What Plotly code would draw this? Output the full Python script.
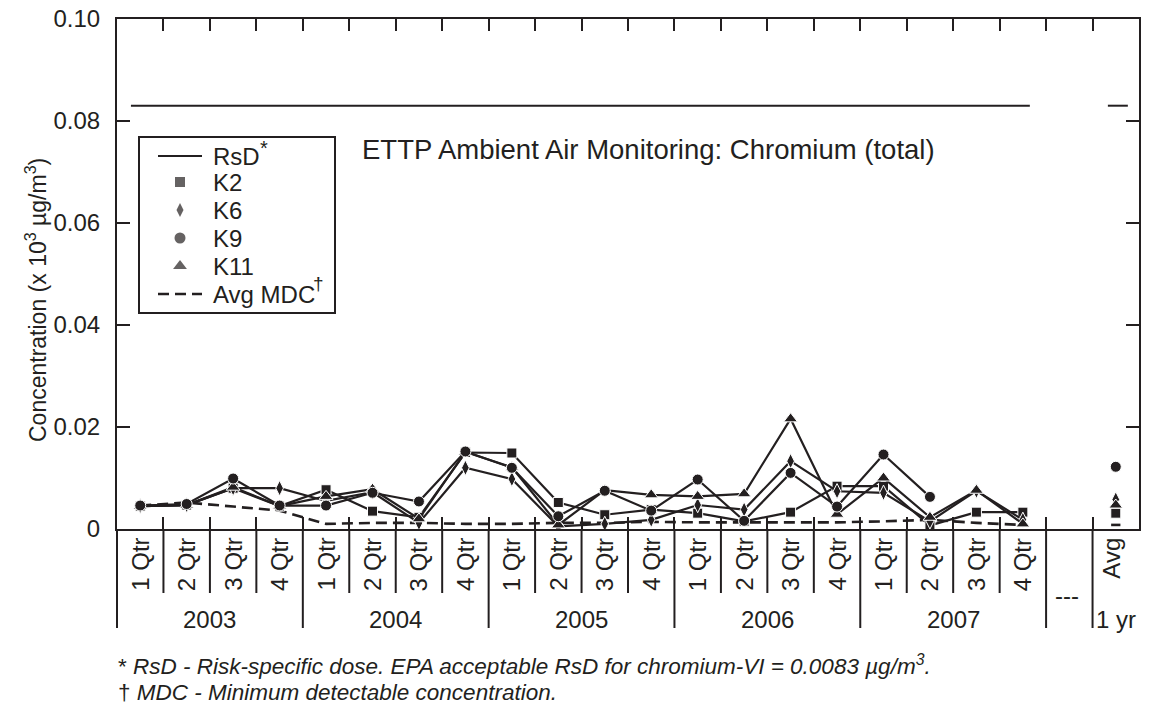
import plotly.graph_objects as go

# ---- data -------------------------------------------------------------
years = ["2003", "2004", "2005", "2006", "2007"]
quarter_names = ["1 Qtr", "2 Qtr", "3 Qtr", "4 Qtr"]
quarter_labels = [q for _ in years for q in quarter_names]   # 20 quarters
gap_label = "---"
avg_label = "Avg"
avg_period = "1 yr"

rsd_level = 0.083

k2 = [0.0045, 0.0047, 0.0080, 0.0045, 0.0077, 0.0035, 0.0023, 0.0150,
      0.0149, 0.0052, 0.0028, 0.0038, 0.0031, 0.0015, 0.0033, 0.0084,
      0.0084, 0.0007, 0.0033, 0.0033]
k6 = [0.0045, 0.0047, 0.0080, 0.0080, 0.0055, 0.0072, 0.0012, 0.0120,
      0.0098, 0.0005, 0.0010, 0.0018, 0.0047, 0.0038, 0.0133, 0.0074,
      0.0071, 0.0015, 0.0075, 0.0018]
k9 = [0.0046, 0.0049, 0.0099, 0.0046, 0.0046, 0.0071, 0.0054, 0.0152,
      0.0120, 0.0025, 0.0075, 0.0036, 0.0097, 0.0016, 0.0110, 0.0044,
      0.0146, 0.0063, None, None]
k11 = [0.0045, 0.0047, 0.0082, 0.0045, 0.0064, 0.0078, 0.0020, 0.0151,
       0.0121, 0.0008, 0.0076, 0.0067, 0.0064, 0.0069, 0.0216, 0.0029,
       0.0100, 0.0023, 0.0076, 0.0010]
avg_mdc = [0.0046, 0.0052, 0.0044, 0.0036, 0.0010, 0.0012, 0.0012, 0.0010,
           0.0010, 0.0012, 0.0012, 0.0014, 0.0013, 0.0013, 0.0014, 0.0013,
           0.0015, 0.0018, 0.0012, 0.0008]

avg_k2 = 0.0031
avg_k6 = 0.0058
avg_k9 = 0.0122
avg_k11 = 0.0047
avg_mdc_1yr = 0.0008

# ---- layout geometry --------------------------------------------------
W, H = 1151, 711
ML, MR, MT, MB = 117, 12, 19, 182
PW, PH = W - ML - MR, H - MT - MB
INK = "#231F20"
FONT = "Liberation Sans, Arial, Helvetica, sans-serif"
FS = 24

n_q = len(quarter_labels)
idx_gap = n_q
idx_avg = n_q + 1


def px_x(px):
    return (px - ML) / PW


def px_y(py):
    return (H - MB - py) / PH


def note(text, x, y, size=FS, xanchor="left", yanchor="middle", **kw):
    return dict(xref="paper", yref="paper", x=px_x(x), y=px_y(y),
                xanchor=xanchor, yanchor=yanchor, text=text, showarrow=False,
                font=dict(size=size, color=INK, family=FONT), **kw)


fig = go.Figure()

# RsD reference level
fig.add_trace(go.Scatter(x=[-0.2, n_q - 0.85], y=[rsd_level, rsd_level],
                         mode="lines", line=dict(color=INK, width=2),
                         hoverinfo="skip", showlegend=False))
fig.add_trace(go.Scatter(x=[idx_avg - 0.17, idx_avg + 0.26], y=[rsd_level, rsd_level],
                         mode="lines", line=dict(color=INK, width=2),
                         hoverinfo="skip", showlegend=False))

# average minimum detectable concentration
fig.add_trace(go.Scatter(x=list(range(n_q)), y=avg_mdc, mode="lines",
                         line=dict(color=INK, width=2.6, dash="11px,6px"),
                         showlegend=False))
fig.add_trace(go.Scatter(x=[idx_avg - 0.1, idx_avg + 0.1], y=[avg_mdc_1yr, avg_mdc_1yr],
                         mode="lines", line=dict(color=INK, width=2.6),
                         showlegend=False))

xs = list(range(n_q + 2))
series = [
    ("K2", k2, avg_k2, "square", 10),
    ("K6", k6, avg_k6, "diamond-tall", 11),
    ("K11", k11, avg_k11, "triangle-up", 12),
    ("K9", k9, avg_k9, "circle", 11),
]
for name, vals, avg_val, sym, size in series:
    fig.add_trace(go.Scatter(
        x=xs, y=vals + [None, avg_val], mode="lines+markers", name=name,
        connectgaps=False,
        line=dict(color=INK, width=2.2),
        marker=dict(symbol=sym, size=size, color=INK,
                    line=dict(color="white", width=1)),
        showlegend=False))

# ---- hand-built legend box -------------------------------------------
LEG_L, LEG_R, LEG_T, LEG_B = 139, 335, 137, 313
leg_rows = [156, 182, 210, 238, 266, 294]
leg_line_x = (158, 202)
leg_mark_x = 180
leg_text_x = 211

shapes = []
shapes.append(dict(type="rect", xref="paper", yref="paper",
                   x0=px_x(LEG_L), x1=px_x(LEG_R), y0=px_y(LEG_B), y1=px_y(LEG_T),
                   line=dict(color=INK, width=2), fillcolor="white", layer="below"))
shapes.append(dict(type="line", xref="paper", yref="paper",
                   x0=px_x(leg_line_x[0]), x1=px_x(leg_line_x[1]),
                   y0=px_y(leg_rows[0]), y1=px_y(leg_rows[0]),
                   line=dict(color=INK, width=2), layer="above"))
shapes.append(dict(type="line", xref="paper", yref="paper",
                   x0=px_x(leg_line_x[0]), x1=px_x(leg_line_x[1]),
                   y0=px_y(leg_rows[5]), y1=px_y(leg_rows[5]),
                   line=dict(color=INK, width=2.6, dash="11px,6px"), layer="above"))

# legend symbols drawn on an overlay axis measured in pixels
leg_syms = [("square", 10), ("diamond-tall", 10), ("circle", 11), ("triangle-up", 12)]
fig.add_trace(go.Scatter(
    x=[leg_mark_x] * 4, y=leg_rows[1:5], mode="markers",
    xaxis="x2", yaxis="y2",
    marker=dict(symbol=[s for s, _ in leg_syms], size=[z for _, z in leg_syms],
                color=INK, line=dict(width=0)),
    hoverinfo="skip", showlegend=False))

leg_texts = ["RsD", "K2", "K6", "K9", "K11", "Avg MDC"]
annotations = [note(txt, leg_text_x, row) for txt, row in zip(leg_texts, leg_rows)]
# raised reference marks after the legend labels
annotations.append(note("*", 258, 148, size=20))
annotations.append(note("†", 311, 284, size=19))

# chart title inside the plot
annotations.append(note("ETTP Ambient Air Monitoring: Chromium (total)", 648, 149,
                        size=27.5, xanchor="center"))

# ---- category axis below the plot ------------------------------------
Q_BOTTOM, Y_BOTTOM = 593, 628
for b in range(1, n_q + 2):
    xb = b - 0.5
    full = (b % 4 == 0) or b >= n_q
    shapes.append(dict(type="line", xref="x", yref="paper", x0=xb, x1=xb,
                       y0=0, y1=px_y(Y_BOTTOM if full else Q_BOTTOM),
                       line=dict(color=INK, width=2)))
shapes.append(dict(type="line", xref="paper", yref="paper", x0=0, x1=0,
                   y0=0, y1=px_y(Y_BOTTOM), line=dict(color=INK, width=2)))

for i, q in enumerate(quarter_labels):
    annotations.append(dict(xref="x", yref="paper", x=i, y=px_y(536),
                            xanchor="center", yanchor="top", textangle=-90,
                            text=q, showarrow=False,
                            font=dict(size=FS, color=INK, family=FONT)))
annotations.append(dict(xref="x", yref="paper", x=idx_avg - 0.1, y=px_y(536),
                        xanchor="center", yanchor="top", textangle=-90,
                        text=avg_label, showarrow=False,
                        font=dict(size=FS, color=INK, family=FONT)))
annotations.append(dict(xref="x", yref="paper", x=idx_gap - 0.05, y=px_y(595),
                        xanchor="center", yanchor="middle", text=gap_label,
                        showarrow=False, font=dict(size=FS, color=INK, family=FONT)))
for k, yr in enumerate(years):
    annotations.append(dict(xref="x", yref="paper", x=4 * k + 1.5, y=px_y(619),
                            xanchor="center", yanchor="middle", text=yr,
                            showarrow=False, font=dict(size=FS, color=INK, family=FONT)))
annotations.append(dict(xref="x", yref="paper", x=idx_avg, y=px_y(619),
                        xanchor="center", yanchor="middle", text=avg_period,
                        showarrow=False, font=dict(size=FS, color=INK, family=FONT)))

# y-axis title
annotations.append(note("Concentration (x 10<sup>3</sup> µg/m<sup>3</sup>)", 36, 300,
                        size=23, xanchor="center", textangle=-90))

# footnotes
annotations.append(note("* <i>RsD - Risk-specific dose. EPA acceptable RsD for "
                        "chromium-VI = 0.0083 µg/m<sup>3</sup>.</i>", 116, 665, size=22.5))
annotations.append(note("† <i>MDC - Minimum detectable concentration.</i>",
                        116, 692, size=22.5))

fig.update_layout(
    width=W, height=H, autosize=False,
    margin=dict(l=ML, r=MR, t=MT, b=MB, pad=0, autoexpand=False),
    paper_bgcolor="white", plot_bgcolor="white",
    font=dict(family=FONT, size=FS, color=INK),
    showlegend=False,
    xaxis=dict(range=[-0.5, n_q + 1.5], tickvals=[b - 0.5 for b in range(1, n_q + 2)],
               showticklabels=False, ticks="inside", ticklen=12, tickwidth=2,
               tickcolor=INK, showline=True, linewidth=2, linecolor=INK,
               mirror="ticks", showgrid=False, zeroline=False, fixedrange=True,
               automargin=False),
    yaxis=dict(range=[0, 0.10], tickvals=[0, 0.02, 0.04, 0.06, 0.08, 0.10],
               ticktext=["0", "0.02", "0.04", "0.06", "0.08", "0.10"],
               ticks="inside", ticklen=13, tickwidth=2, tickcolor=INK,
               showline=True, linewidth=2, linecolor=INK, mirror="ticks",
               showgrid=False, zeroline=False, ticklabelstandoff=10,
               tickfont=dict(size=FS, color=INK, family=FONT), automargin=False),
    xaxis2=dict(overlaying="x", range=[ML, W - MR], visible=False, fixedrange=True,
                automargin=False),
    yaxis2=dict(overlaying="y", range=[H - MB, MT], visible=False, fixedrange=True,
                automargin=False),
    shapes=shapes,
    annotations=annotations,
)

fig.write_html("out.html")
